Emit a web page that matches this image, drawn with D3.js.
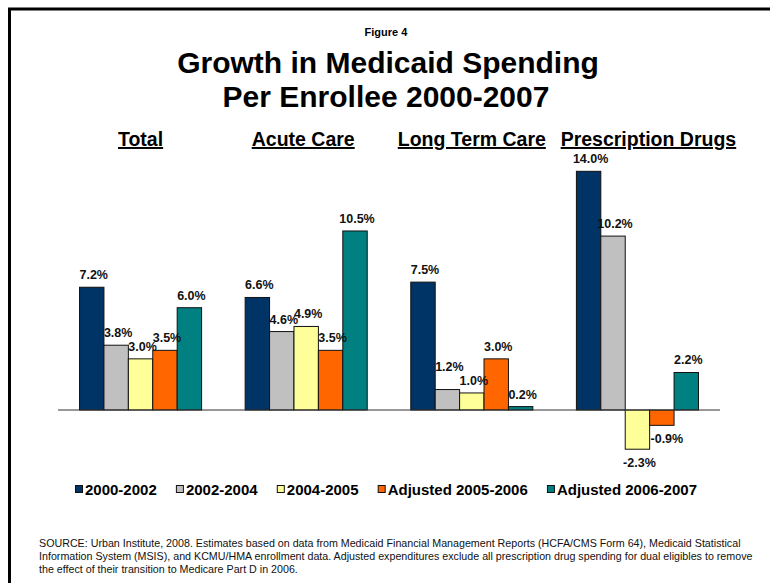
<!DOCTYPE html>
<html>
<head>
<meta charset="utf-8">
<script src="https://cdn.jsdelivr.net/npm/d3@7"></script>
<style>
  body { margin: 0; background: #fff; }
  svg { display: block; font-family: "Liberation Sans", Arial, sans-serif; }
</style>
</head>
<body>
<div id="chart"></div>
<script>
// categories and series
const categories = ["Total", "Acute Care", "Long Term Care", "Prescription Drugs"];
const seriesNames = ["2000-2002", "2002-2004", "2004-2005", "Adjusted 2005-2006", "Adjusted 2006-2007"];
const s2000_2002 = [7.2, 6.6, 7.5, 14.0];
const s2002_2004 = [3.8, 4.6, 1.2, 10.2];
const s2004_2005 = [3.0, 4.9, 1.0, -2.3];
const adj2005_2006 = [3.5, 3.5, 3.0, -0.9];
const adj2006_2007 = [6.0, 10.5, 0.2, 2.2];
const seriesColors = ["#003366", "#C0C0C0", "#FFFF99", "#FF6600", "#008080"];

const sourceLines = [
  "SOURCE: Urban Institute, 2008. Estimates based on data from Medicaid Financial Management Reports (HCFA/CMS Form 64), Medicaid Statistical",
  "Information System (MSIS), and KCMU/HMA enrollment data. Adjusted expenditures exclude all prescription drug spending for dual eligibles to remove",
  "the effect of their transition to Medicare Part D in 2006."
];

const W = 770, H = 583;
const allSeries = [s2000_2002, s2002_2004, s2004_2005, adj2005_2006, adj2006_2007];
// headings in the original are not quite centred on their groups
const headingShift = [0, -3, 0, 11];

const svg = d3.select("#chart").append("svg")
  .attr("width", W)
  .attr("height", H);

// frame (clipped at right / bottom)
svg.append("path")
  .attr("d", `M9.5,${H} V9 H${W}`)
  .attr("fill", "none")
  .attr("stroke", "#000")
  .attr("stroke-width", 3);

// titles
svg.append("text")
  .attr("x", 386).attr("y", 36)
  .attr("text-anchor", "middle")
  .attr("font-size", 11).attr("font-weight", "bold")
  .text("Figure 4");

svg.append("text")
  .attr("x", 388).attr("y", 73)
  .attr("text-anchor", "middle")
  .attr("font-size", 30).attr("font-weight", "bold")
  .text("Growth in Medicaid Spending");

svg.append("text")
  .attr("x", 386).attr("y", 107)
  .attr("text-anchor", "middle")
  .attr("font-size", 30).attr("font-weight", "bold")
  .text("Per Enrollee 2000-2007");

// scales
const x0 = d3.scaleBand()
  .domain(categories)
  .range([58, 720])
  .paddingInner(0.263)
  .paddingOuter(0.13);

const x1 = d3.scaleBand()
  .domain(seriesNames)
  .range([0, x0.bandwidth()]);

const y = d3.scaleLinear()
  .domain([-4, 14])
  .range([478.2, 171.3]);

// flatten into bar records
const bars = [];
categories.forEach((c, ci) => {
  seriesNames.forEach((s, si) => {
    bars.push({ cat: c, series: s, si: si, value: allSeries[si][ci] });
  });
});

// group headings
svg.append("g")
  .selectAll("text")
  .data(categories)
  .join("text")
  .attr("x", (d, i) => x0(d) + x0.bandwidth() / 2 + headingShift[i])
  .attr("y", 146)
  .attr("text-anchor", "middle")
  .attr("font-size", 19.5)
  .attr("font-weight", "bold")
  .attr("text-decoration", "underline")
  .text(d => d);

// bars
svg.append("g")
  .selectAll("rect")
  .data(bars)
  .join("rect")
  .attr("x", d => x0(d.cat) + x1(d.series))
  .attr("y", d => y(Math.max(0, d.value)))
  .attr("width", x1.bandwidth())
  .attr("height", d => Math.abs(y(d.value) - y(0)))
  .attr("fill", d => seriesColors[d.si])
  .attr("stroke", "#111")
  .attr("stroke-width", 1);

// baseline
svg.append("line")
  .attr("x1", x0.range()[0]).attr("x2", x0.range()[1])
  .attr("y1", y(0)).attr("y2", y(0))
  .attr("stroke", "#333")
  .attr("stroke-width", 1.2);

// value labels
bars.forEach(d => {
  d.lx = x0(d.cat) + x1(d.series) + x1.bandwidth() / 2 + (d.value < 0 && d.si == 3 ? 5 : 2);
  d.ly = d.value >= 0 ? y(d.value) - 8 : y(d.value) + 18;
});

const labels = svg.append("g")
  .selectAll("text")
  .data(bars)
  .join("text")
  .attr("text-anchor", "middle")
  .attr("font-size", 12.5)
  .attr("font-weight", "bold")
  .attr("fill", "#111")
  .text(d => d.value.toFixed(1) + "%");

// labels sitting at nearly the same height would collide: lift the earlier one
const widths = labels.nodes().map(n => n.getComputedTextLength());
for (let i = 0; i < bars.length - 1; i++) {
  const a = bars[i], b = bars[i + 1];
  if (a.cat != b.cat) continue;
  const dx = b.lx - a.lx;
  if (Math.abs(a.ly - b.ly) < 4.5 && dx < (widths[i] + widths[i + 1]) / 2) {
    a.ly = b.ly - 14;
  }
}

labels
  .attr("x", d => d.lx)
  .attr("y", d => d.ly);

// legend, spread between x=75 and x=697 like the original
const legendLeft = 75, legendRight = 697;
const legend = svg.append("g").attr("transform", `translate(${legendLeft},495)`);
const items = seriesNames.map((s, i) => {
  const item = legend.append("g");
  item.append("rect")
    .attr("x", 0.5).attr("y", -9.5)
    .attr("width", 7).attr("height", 7)
    .attr("fill", seriesColors[i])
    .attr("stroke", "#111").attr("stroke-width", 1);
  const t = item.append("text")
    .attr("x", 10).attr("y", 0)
    .attr("font-size", 15).attr("font-weight", "bold")
    .text(s);
  return { item, w: 10 + t.node().getComputedTextLength() };
});
const totalW = d3.sum(items, d => d.w);
const gap = (legendRight - legendLeft - totalW) / (items.length - 1);
let lx = 0;
items.forEach(d => {
  d.item.attr("transform", `translate(${lx},0)`);
  lx += d.w + gap;
});

// source note
svg.append("g")
  .selectAll("text")
  .data(sourceLines)
  .join("text")
  .attr("x", 39)
  .attr("y", (d, i) => 547 + i * 13)
  .attr("font-size", 10.7)
  .attr("fill", "#111")
  .text(d => d);
</script>
</body>
</html>
